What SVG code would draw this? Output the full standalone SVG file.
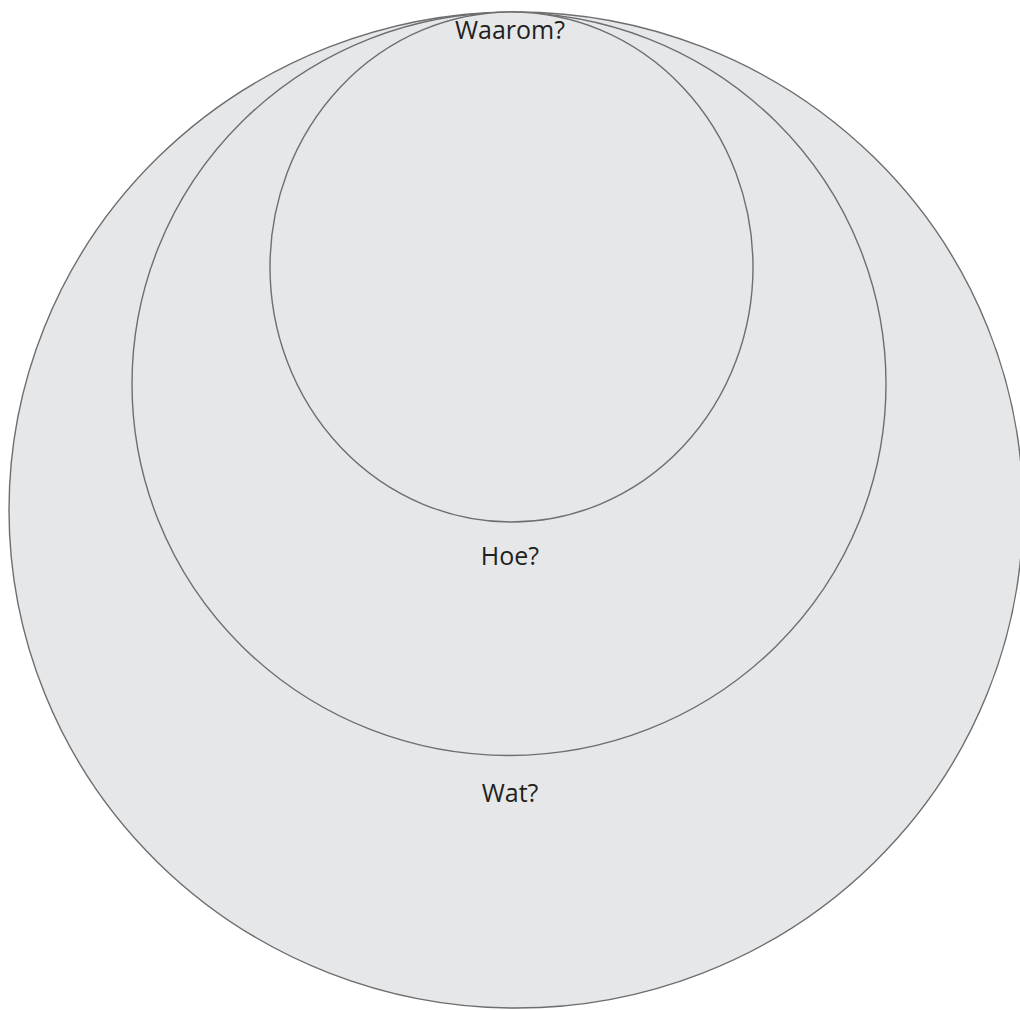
<svg xmlns="http://www.w3.org/2000/svg" width="1020" height="1010" viewBox="0 0 1020 1010">
<style>
.c{fill:#e6e7e9;stroke:#6d6e70;stroke-width:1.4}
.t{font-family:"Open Sans","Noto Sans",sans-serif;font-size:25px;fill:#231f20;text-anchor:middle}
</style>
<rect width="1020" height="1010" fill="#fff"/>
<g id="wat"><ellipse class="c" cx="516" cy="510" rx="507" ry="498"/><text class="t" x="510" y="802">Wat?</text></g>
<g id="hoe"><ellipse class="c" cx="509" cy="384" rx="377" ry="371.5"/><text class="t" x="510" y="565">Hoe?</text></g>
<g id="waarom"><ellipse class="c" cx="511.5" cy="267" rx="241.5" ry="255"/><text class="t" x="510" y="39">Waarom?</text></g>
<g id="connectors"/>
</svg>
